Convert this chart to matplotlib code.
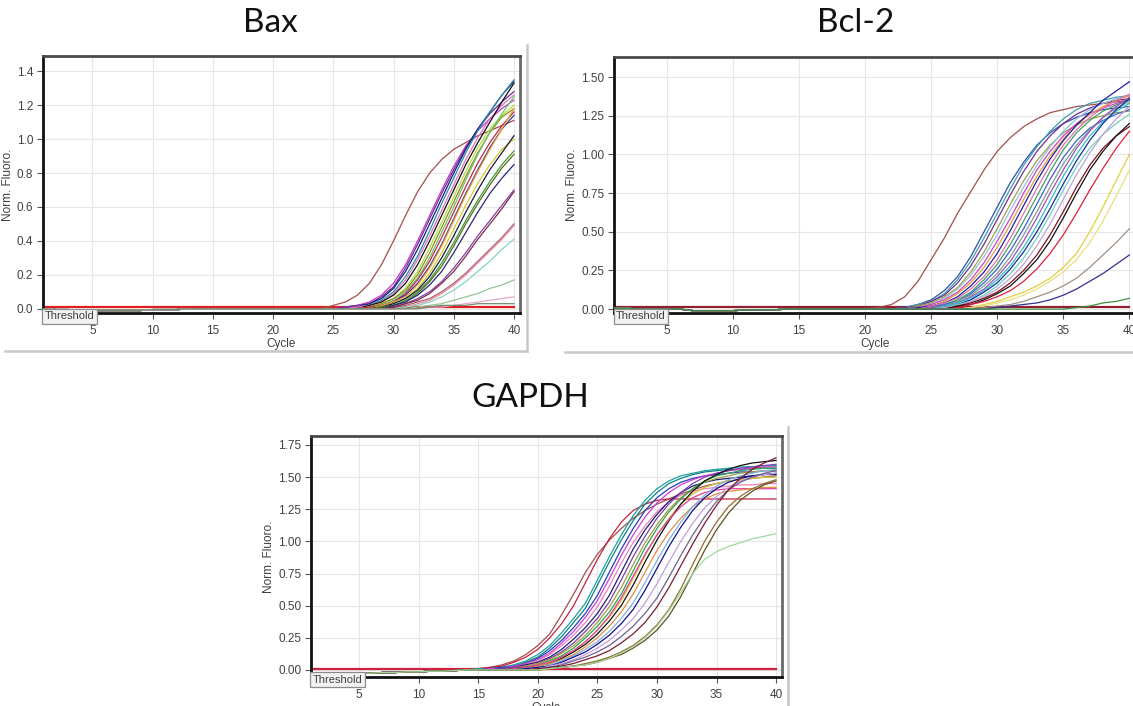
import matplotlib.pyplot as plt
from matplotlib.lines import Line2D
import numpy as np

W, H = 1133, 706
cycles = np.arange(1, 41)

# ---------------- Bax ----------------
bax_baseline = [0.0, -0.005, -0.005, -0.01, -0.01, -0.01, -0.01, -0.01, -0.01, -0.005,
                -0.005, -0.005, 0.0, 0.0, 0.0, 0.0, 0.0, 0.0, 0.0, 0.0,
                0.0, 0.0, 0.0, 0.0, 0.0, 0.0, 0.0, 0.0, 0.0, 0.0,
                0.0, 0.0, 0.0, 0.0, 0.0, 0.0, 0.0, 0.0, 0.0, 0.0]
# each curve: readings up to cycle 40 (earlier cycles sit on the baseline)
bax_curves = [
    [0.00, 0.02, 0.04, 0.08, 0.15, 0.26, 0.40, 0.55, 0.69, 0.80, 0.88, 0.94, 0.98, 1.02, 1.05, 1.08, 1.11],
    [0.01, 0.02, 0.04, 0.08, 0.15, 0.26, 0.40, 0.55, 0.70, 0.84, 0.96, 1.05, 1.12, 1.18, 1.23],
    [0.01, 0.02, 0.03, 0.07, 0.13, 0.24, 0.38, 0.53, 0.68, 0.82, 0.95, 1.06, 1.15, 1.22, 1.28],
    [0.01, 0.03, 0.06, 0.12, 0.22, 0.35, 0.50, 0.65, 0.80, 0.94, 1.06, 1.16, 1.26, 1.34],
    [0.01, 0.02, 0.05, 0.10, 0.19, 0.31, 0.46, 0.62, 0.77, 0.92, 1.05, 1.16, 1.26, 1.35],
    [0.01, 0.02, 0.04, 0.09, 0.17, 0.29, 0.43, 0.58, 0.73, 0.88, 1.01, 1.12, 1.20, 1.26],
    [0.02, 0.04, 0.08, 0.15, 0.26, 0.40, 0.55, 0.70, 0.85, 0.98, 1.10, 1.22, 1.33],
    [0.01, 0.03, 0.06, 0.12, 0.22, 0.36, 0.51, 0.66, 0.81, 0.95, 1.06, 1.14, 1.20],
    [0.01, 0.03, 0.06, 0.11, 0.20, 0.33, 0.48, 0.63, 0.78, 0.92, 1.04, 1.13, 1.18],
    [0.01, 0.02, 0.05, 0.10, 0.18, 0.30, 0.45, 0.60, 0.76, 0.91, 1.04, 1.15, 1.25],
    [0.01, 0.02, 0.04, 0.09, 0.17, 0.28, 0.42, 0.57, 0.72, 0.86, 0.98, 1.08, 1.16],
    [0.02, 0.04, 0.08, 0.15, 0.25, 0.38, 0.53, 0.68, 0.82, 0.95, 1.06, 1.14],
    [0.02, 0.04, 0.07, 0.14, 0.24, 0.37, 0.52, 0.67, 0.81, 0.94, 1.06, 1.18],
    [0.01, 0.03, 0.06, 0.12, 0.21, 0.33, 0.47, 0.61, 0.74, 0.85, 0.94, 1.00],
    [0.01, 0.03, 0.06, 0.11, 0.19, 0.30, 0.43, 0.57, 0.70, 0.82, 0.92, 1.02],
    [0.01, 0.02, 0.05, 0.10, 0.17, 0.27, 0.39, 0.52, 0.64, 0.75, 0.85, 0.93],
    [0.01, 0.02, 0.04, 0.09, 0.16, 0.25, 0.37, 0.50, 0.62, 0.73, 0.83, 0.91],
    [0.02, 0.04, 0.08, 0.14, 0.22, 0.33, 0.45, 0.57, 0.68, 0.77, 0.85],
    [0.01, 0.03, 0.06, 0.10, 0.16, 0.24, 0.33, 0.43, 0.52, 0.61, 0.70],
    [0.01, 0.03, 0.05, 0.09, 0.15, 0.22, 0.31, 0.41, 0.50, 0.59, 0.69],
    [0.02, 0.04, 0.06, 0.10, 0.15, 0.21, 0.28, 0.35, 0.42, 0.50],
    [0.01, 0.03, 0.05, 0.09, 0.14, 0.20, 0.27, 0.34, 0.41, 0.49],
    [0.01, 0.02, 0.04, 0.07, 0.11, 0.16, 0.22, 0.28, 0.35, 0.41],
    [0.01, 0.02, 0.03, 0.05, 0.07, 0.09, 0.12, 0.14, 0.17],
    [0.01, 0.01, 0.02, 0.03, 0.04, 0.05, 0.06, 0.07],
    [0.01, 0.02, 0.02, 0.02, 0.03, 0.03, 0.03, 0.03],
]
bax_flat = [0.01] * 40

# ---------------- Bcl-2 ----------------
bcl_baseline = [0.005, 0.005, 0.0, 0.0, 0.0, 0.0, -0.01, -0.01, -0.01, -0.01,
                -0.005, -0.005, -0.005, 0.0, 0.0, 0.0, 0.0, 0.0, 0.0, 0.0,
                0.0, 0.0, 0.0, 0.0, 0.0, 0.0, 0.0, 0.0, 0.0, 0.0,
                0.0, 0.0, 0.0, 0.0, 0.0, 0.0, 0.0, 0.0, 0.0, 0.0]
bcl_curves = [
    [0.00, 0.01, 0.03, 0.08, 0.18, 0.32, 0.46, 0.62, 0.76, 0.90, 1.02, 1.11, 1.18, 1.23, 1.27, 1.29, 1.31, 1.32, 1.33, 1.34, 1.35],
    [0.01, 0.03, 0.06, 0.12, 0.21, 0.34, 0.50, 0.66, 0.82, 0.95, 1.06, 1.14, 1.20, 1.24, 1.27, 1.29, 1.30, 1.31],
    [0.01, 0.03, 0.05, 0.10, 0.19, 0.31, 0.46, 0.62, 0.78, 0.93, 1.05, 1.15, 1.23, 1.29, 1.33, 1.35, 1.37, 1.38],
    [0.01, 0.02, 0.05, 0.09, 0.17, 0.28, 0.42, 0.58, 0.74, 0.89, 1.02, 1.12, 1.20, 1.26, 1.30, 1.33, 1.35, 1.36],
    [0.02, 0.04, 0.08, 0.14, 0.24, 0.37, 0.52, 0.68, 0.83, 0.96, 1.06, 1.14, 1.19, 1.23, 1.25, 1.27, 1.28],
    [0.01, 0.03, 0.07, 0.13, 0.22, 0.34, 0.48, 0.64, 0.79, 0.93, 1.05, 1.15, 1.23, 1.29, 1.33, 1.36, 1.38],
    [0.01, 0.03, 0.06, 0.11, 0.19, 0.30, 0.44, 0.59, 0.75, 0.90, 1.02, 1.12, 1.20, 1.26, 1.30, 1.33, 1.35],
    [0.01, 0.02, 0.05, 0.10, 0.17, 0.27, 0.40, 0.55, 0.71, 0.86, 0.99, 1.10, 1.19, 1.26, 1.31, 1.35, 1.38],
    [0.01, 0.02, 0.04, 0.08, 0.15, 0.24, 0.36, 0.51, 0.67, 0.83, 0.97, 1.09, 1.19, 1.27, 1.35, 1.41, 1.47],
    [0.02, 0.04, 0.07, 0.13, 0.21, 0.32, 0.46, 0.62, 0.78, 0.93, 1.06, 1.16, 1.24, 1.30, 1.35, 1.39],
    [0.01, 0.03, 0.06, 0.11, 0.19, 0.29, 0.42, 0.57, 0.73, 0.89, 1.03, 1.14, 1.22, 1.28, 1.32, 1.35],
    [0.01, 0.03, 0.05, 0.10, 0.17, 0.26, 0.38, 0.52, 0.68, 0.84, 0.98, 1.09, 1.17, 1.22, 1.26, 1.29],
    [0.01, 0.02, 0.05, 0.09, 0.15, 0.23, 0.34, 0.48, 0.63, 0.79, 0.94, 1.06, 1.16, 1.24, 1.30, 1.34],
    [0.01, 0.02, 0.04, 0.08, 0.13, 0.21, 0.31, 0.44, 0.59, 0.75, 0.90, 1.04, 1.15, 1.24, 1.31, 1.37],
    [0.02, 0.04, 0.07, 0.12, 0.19, 0.28, 0.40, 0.54, 0.70, 0.86, 1.00, 1.12, 1.21, 1.28, 1.33],
    [0.01, 0.03, 0.06, 0.11, 0.17, 0.26, 0.37, 0.50, 0.65, 0.81, 0.96, 1.09, 1.20, 1.29, 1.36],
    [0.01, 0.03, 0.05, 0.09, 0.15, 0.23, 0.33, 0.46, 0.61, 0.77, 0.92, 1.04, 1.13, 1.20, 1.26],
    [0.01, 0.02, 0.05, 0.08, 0.13, 0.20, 0.29, 0.41, 0.55, 0.71, 0.87, 1.01, 1.13, 1.23, 1.31],
    [0.02, 0.04, 0.07, 0.11, 0.17, 0.25, 0.35, 0.48, 0.63, 0.79, 0.93, 1.04, 1.12, 1.18],
    [0.02, 0.03, 0.06, 0.10, 0.15, 0.23, 0.32, 0.44, 0.59, 0.75, 0.90, 1.02, 1.12, 1.20],
    [0.01, 0.03, 0.05, 0.08, 0.12, 0.18, 0.26, 0.36, 0.48, 0.62, 0.77, 0.91, 1.04, 1.15],
    [0.01, 0.03, 0.05, 0.08, 0.11, 0.15, 0.20, 0.27, 0.36, 0.50, 0.66, 0.83, 1.00],
    [0.01, 0.02, 0.04, 0.06, 0.09, 0.13, 0.18, 0.24, 0.32, 0.43, 0.57, 0.73, 0.90],
    [0.01, 0.02, 0.03, 0.05, 0.08, 0.11, 0.15, 0.20, 0.27, 0.35, 0.43, 0.52],
    [0.01, 0.02, 0.03, 0.04, 0.06, 0.09, 0.13, 0.18, 0.23, 0.29, 0.35],
    [0.01, 0.02, 0.04, 0.05, 0.07],
]
bcl_flat = [0.015] * 40

# ---------------- GAPDH ----------------
gapdh_baseline = [-0.03, -0.03, -0.03, -0.03, -0.025, -0.025, -0.02, -0.02, -0.015, -0.015,
                  -0.01, -0.01, -0.005, 0.0, 0.0, 0.0, 0.0, 0.0, 0.0, 0.0,
                  0.0, 0.0, 0.0, 0.0, 0.0, 0.0, 0.0, 0.0, 0.0, 0.0,
                  0.0, 0.0, 0.0, 0.0, 0.0, 0.0, 0.0, 0.0, 0.0, 0.0]
gapdh_curves = [
    [0.00, 0.01, 0.02, 0.04, 0.07, 0.12, 0.19, 0.28, 0.43, 0.59, 0.76, 0.90, 1.01, 1.10, 1.18, 1.24, 1.29, 1.33, 1.37, 1.40, 1.43, 1.45, 1.47, 1.48, 1.49, 1.50, 1.51],
    [0.00, 0.01, 0.02, 0.03, 0.06, 0.10, 0.16, 0.25, 0.36, 0.50, 0.68, 0.86, 1.02, 1.15, 1.24, 1.29, 1.32, 1.33, 1.33, 1.33, 1.33, 1.33, 1.33, 1.33, 1.33, 1.33, 1.33],
    [0.00, 0.01, 0.01, 0.02, 0.04, 0.07, 0.12, 0.19, 0.29, 0.40, 0.52, 0.70, 0.88, 1.05, 1.20, 1.32, 1.41, 1.47, 1.51, 1.53, 1.55, 1.56, 1.57, 1.58, 1.58, 1.59, 1.59],
    [0.00, 0.00, 0.01, 0.02, 0.03, 0.06, 0.10, 0.17, 0.26, 0.37, 0.48, 0.66, 0.84, 1.01, 1.16, 1.29, 1.38, 1.45, 1.49, 1.52, 1.54, 1.55, 1.56, 1.56, 1.57, 1.57, 1.57],
    [0.00, 0.00, 0.01, 0.02, 0.03, 0.05, 0.09, 0.15, 0.23, 0.33, 0.44, 0.58, 0.76, 0.94, 1.10, 1.24, 1.34, 1.41, 1.46, 1.49, 1.51, 1.52, 1.53, 1.54, 1.54, 1.55, 1.55],
    [0.00, 0.00, 0.01, 0.01, 0.03, 0.05, 0.08, 0.13, 0.21, 0.30, 0.41, 0.54, 0.71, 0.89, 1.05, 1.19, 1.30, 1.38, 1.44, 1.48, 1.51, 1.53, 1.55, 1.56, 1.57, 1.58, 1.58],
    [0.00, 0.00, 0.00, 0.01, 0.02, 0.04, 0.07, 0.12, 0.19, 0.27, 0.37, 0.49, 0.65, 0.83, 0.99, 1.12, 1.23, 1.31, 1.36, 1.39, 1.41, 1.42, 1.43, 1.44, 1.44, 1.45, 1.45],
    [0.00, 0.00, 0.00, 0.01, 0.02, 0.04, 0.06, 0.10, 0.16, 0.24, 0.33, 0.44, 0.58, 0.76, 0.94, 1.09, 1.21, 1.31, 1.38, 1.43, 1.46, 1.48, 1.49, 1.50, 1.51, 1.52, 1.52],
    [0.00, 0.00, 0.00, 0.01, 0.02, 0.03, 0.05, 0.09, 0.14, 0.21, 0.30, 0.40, 0.53, 0.70, 0.88, 1.04, 1.18, 1.29, 1.38, 1.45, 1.50, 1.53, 1.55, 1.57, 1.58, 1.59, 1.60],
    [0.00, 0.00, 0.00, 0.00, 0.01, 0.03, 0.05, 0.08, 0.13, 0.19, 0.27, 0.37, 0.49, 0.64, 0.82, 0.99, 1.13, 1.25, 1.34, 1.41, 1.46, 1.49, 1.51, 1.53, 1.54, 1.55, 1.55],
    [0.00, 0.00, 0.00, 0.00, 0.01, 0.02, 0.04, 0.07, 0.11, 0.17, 0.25, 0.34, 0.45, 0.59, 0.77, 0.95, 1.10, 1.23, 1.33, 1.41, 1.47, 1.51, 1.53, 1.55, 1.56, 1.57, 1.57],
    [0.00, 0.00, 0.00, 0.00, 0.01, 0.02, 0.04, 0.06, 0.10, 0.15, 0.22, 0.31, 0.41, 0.54, 0.71, 0.89, 1.05, 1.18, 1.29, 1.37, 1.42, 1.45, 1.47, 1.48, 1.49, 1.50, 1.50],
    [0.00, 0.00, 0.00, 0.00, 0.01, 0.02, 0.03, 0.05, 0.09, 0.14, 0.20, 0.28, 0.38, 0.50, 0.66, 0.84, 1.01, 1.16, 1.29, 1.39, 1.47, 1.52, 1.56, 1.59, 1.61, 1.62, 1.63],
    [0.00, 0.00, 0.00, 0.00, 0.01, 0.02, 0.04, 0.06, 0.10, 0.15, 0.22, 0.31, 0.42, 0.56, 0.73, 0.90, 1.05, 1.17, 1.27, 1.34, 1.38, 1.40, 1.41, 1.41, 1.41, 1.41, 1.41],
    [0.00, 0.00, 0.00, 0.00, 0.00, 0.01, 0.03, 0.05, 0.08, 0.12, 0.18, 0.25, 0.34, 0.45, 0.59, 0.76, 0.93, 1.07, 1.18, 1.27, 1.33, 1.37, 1.39, 1.40, 1.41, 1.42, 1.42],
    [0.00, 0.00, 0.00, 0.00, 0.00, 0.01, 0.02, 0.04, 0.07, 0.11, 0.16, 0.22, 0.30, 0.40, 0.52, 0.68, 0.85, 1.01, 1.15, 1.27, 1.36, 1.43, 1.48, 1.51, 1.53, 1.55, 1.56],
    [0.00, 0.00, 0.00, 0.00, 0.00, 0.01, 0.02, 0.03, 0.06, 0.10, 0.14, 0.20, 0.27, 0.36, 0.47, 0.62, 0.79, 0.96, 1.11, 1.24, 1.34, 1.41, 1.46, 1.49, 1.51, 1.52, 1.53],
    [0.00, 0.00, 0.00, 0.00, 0.00, 0.00, 0.01, 0.03, 0.05, 0.08, 0.12, 0.17, 0.23, 0.31, 0.40, 0.52, 0.67, 0.84, 1.00, 1.14, 1.26, 1.35, 1.42, 1.47, 1.50, 1.52, 1.53],
    [0.00, 0.00, 0.00, 0.00, 0.00, 0.00, 0.01, 0.02, 0.04, 0.07, 0.10, 0.14, 0.19, 0.26, 0.34, 0.44, 0.56, 0.72, 0.89, 1.05, 1.19, 1.31, 1.40, 1.46, 1.50, 1.53, 1.55],
    [0.00, 0.00, 0.00, 0.00, 0.00, 0.00, 0.01, 0.02, 0.03, 0.05, 0.08, 0.11, 0.15, 0.21, 0.28, 0.37, 0.49, 0.64, 0.81, 0.98, 1.14, 1.28, 1.40, 1.49, 1.56, 1.61, 1.65],
    [0.00, 0.00, 0.00, 0.00, 0.00, 0.00, 0.00, 0.01, 0.02, 0.03, 0.05, 0.07, 0.10, 0.14, 0.19, 0.26, 0.35, 0.47, 0.63, 0.82, 1.00, 1.15, 1.27, 1.35, 1.41, 1.45, 1.48],
    [0.00, 0.00, 0.00, 0.00, 0.00, 0.00, 0.00, 0.01, 0.02, 0.03, 0.04, 0.06, 0.09, 0.12, 0.17, 0.23, 0.31, 0.42, 0.57, 0.75, 0.93, 1.09, 1.22, 1.32, 1.39, 1.44, 1.47],
    [0.00, 0.00, 0.00, 0.00, 0.00, 0.00, 0.00, 0.01, 0.02, 0.03, 0.04, 0.06, 0.09, 0.13, 0.18, 0.25, 0.34, 0.46, 0.60, 0.75, 0.86, 0.92, 0.96, 0.99, 1.02, 1.04, 1.06],
]
gapdh_flat = [0.005] * 40

# line colours (style only)
bax_colors = ["#a0504a", "#c838c8", "#6a2a9a", "#1c1c7a", "#2a90a8", "#e070c8", "#111111",
              "#b8d838", "#8c8c28", "#6cc46c", "#c02848", "#34349a", "#e8a030", "#d8c828",
              "#181848", "#3c9c3c", "#5c6c1c", "#28287c", "#8440a4", "#7c2c4c", "#a86060",
              "#e888a8", "#88d4c4", "#94c494", "#e8a8c8", "#708c70"]
bcl_colors = ["#a0504a", "#3050b0", "#40a0b0", "#703090", "#a0a050", "#90c0e0", "#d040c0",
              "#e0a040", "#2020a0", "#e070b0", "#40a060", "#4060d0", "#80a090", "#a050c0",
              "#30c0c0", "#1830a0", "#70d0c0", "#c0a0d8", "#801020", "#111111", "#e02040",
              "#e0d040", "#e8e080", "#a09080", "#303090", "#409040"]
gapdh_colors = ["#a0504a", "#c82040", "#20a0a0", "#108080", "#2040c0", "#d040d0", "#f080c0",
                "#202070", "#8040b0", "#a0a040", "#30a050", "#d8c030", "#111111", "#e040a0",
                "#e09040", "#80b0e0", "#101090", "#c0a0e0", "#706090", "#7c1c30", "#907030",
                "#605020", "#a0d8a0"]

plt.rcParams['font.family'] = ['Liberation Sans', 'DejaVu Sans']

fig = plt.figure(figsize=(W / 100, H / 100), dpi=100)
fig.patch.set_facecolor('white')


def px_axes(left, top, right, bottom):
    return fig.add_axes([left / W, 1 - bottom / H, (right - left) / W, (bottom - top) / H])


def draw_panel(ax, baseline, curves, colors, flat, flat_color, xlim, ylim, yticks, fmt):
    for tail, c in zip(curves, colors):
        y = np.array(baseline[:40 - len(tail)] + tail)
        ax.plot(cycles, y, color=c, lw=0.9, zorder=3)
    ax.plot(cycles, flat, color=flat_color, lw=1.6, zorder=2)
    ax.set_xlim(*xlim)
    ax.set_ylim(*ylim)
    ax.set_xticks(range(5, 41, 5))
    ax.set_yticks(yticks)
    ax.set_yticklabels([fmt.format(v) for v in yticks])
    ax.grid(True, color='#e6e6e6', lw=0.8, zorder=0)
    ax.set_axisbelow(True)
    ax.tick_params(labelsize=8.5, labelcolor='#404040', color='#555555', length=4, width=0.8, pad=3)
    ax.tick_params(axis='x', pad=5)
    ax.set_xlabel('Cycle', fontsize=8.5, color='#404040', labelpad=0)
    ax.set_ylabel('Norm. Fluoro.', fontsize=8.5, color='#404040', labelpad=2)
    for side in ['left', 'bottom']:
        ax.spines[side].set_color('#111111')
        ax.spines[side].set_linewidth(2)
    ax.spines['top'].set_color('#4a4a4a')
    ax.spines['top'].set_linewidth(2)
    ax.spines['right'].set_color('#6a6a6a')
    ax.spines['right'].set_linewidth(2)
    ax.text(0.004, -0.012, 'Threshold', transform=ax.transAxes, ha='left', va='center',
            fontsize=8, color='#404040', zorder=10, clip_on=False,
            bbox=dict(boxstyle='square,pad=0.22', fc='#f2f2f2', ec='#8c8c8c', lw=0.9))


ax1 = px_axes(43, 56, 520, 313)
draw_panel(ax1, bax_baseline, bax_curves, bax_colors, bax_flat, '#e02020',
           (0.9, 40.5), (-0.025, 1.49), [0.0, 0.2, 0.4, 0.6, 0.8, 1.0, 1.2, 1.4], '{:.1f}')

ax2 = px_axes(614, 57, 1136, 313)
draw_panel(ax2, bcl_baseline, bcl_curves, bcl_colors, bcl_flat, '#902030',
           (1.0, 40.5), (-0.025, 1.63), [0.0, 0.25, 0.5, 0.75, 1.0, 1.25, 1.5], '{:.2f}')

ax3 = px_axes(311, 436, 782, 677)
draw_panel(ax3, gapdh_baseline, gapdh_curves, gapdh_colors, gapdh_flat, '#d02040',
           (0.95, 40.5), (-0.055, 1.82), [0.0, 0.25, 0.5, 0.75, 1.0, 1.25, 1.5, 1.75], '{:.2f}')

# panel titles
for label, x, y in [('Bax', 270, 23), ('Bcl-2', 856, 23), ('GAPDH', 530, 398)]:
    fig.text(x / W, 1 - y / H, label, ha='center', va='center', fontsize=24,
             family=['Lato', 'DejaVu Sans'], color='#111111')

# light borders of the pasted screenshots
border = '#c8c8c8'
for (x0, y0, x1, y1) in [(5, 351, 527, 351), (527, 45, 527, 351),
                         (565, 352, 1133, 352), (788, 427, 788, 706)]:
    fig.add_artist(Line2D([x0 / W, x1 / W], [1 - y0 / H, 1 - y1 / H],
                          transform=fig.transFigure, color=border, lw=1.8))

fig.savefig('out.png', dpi=100)
